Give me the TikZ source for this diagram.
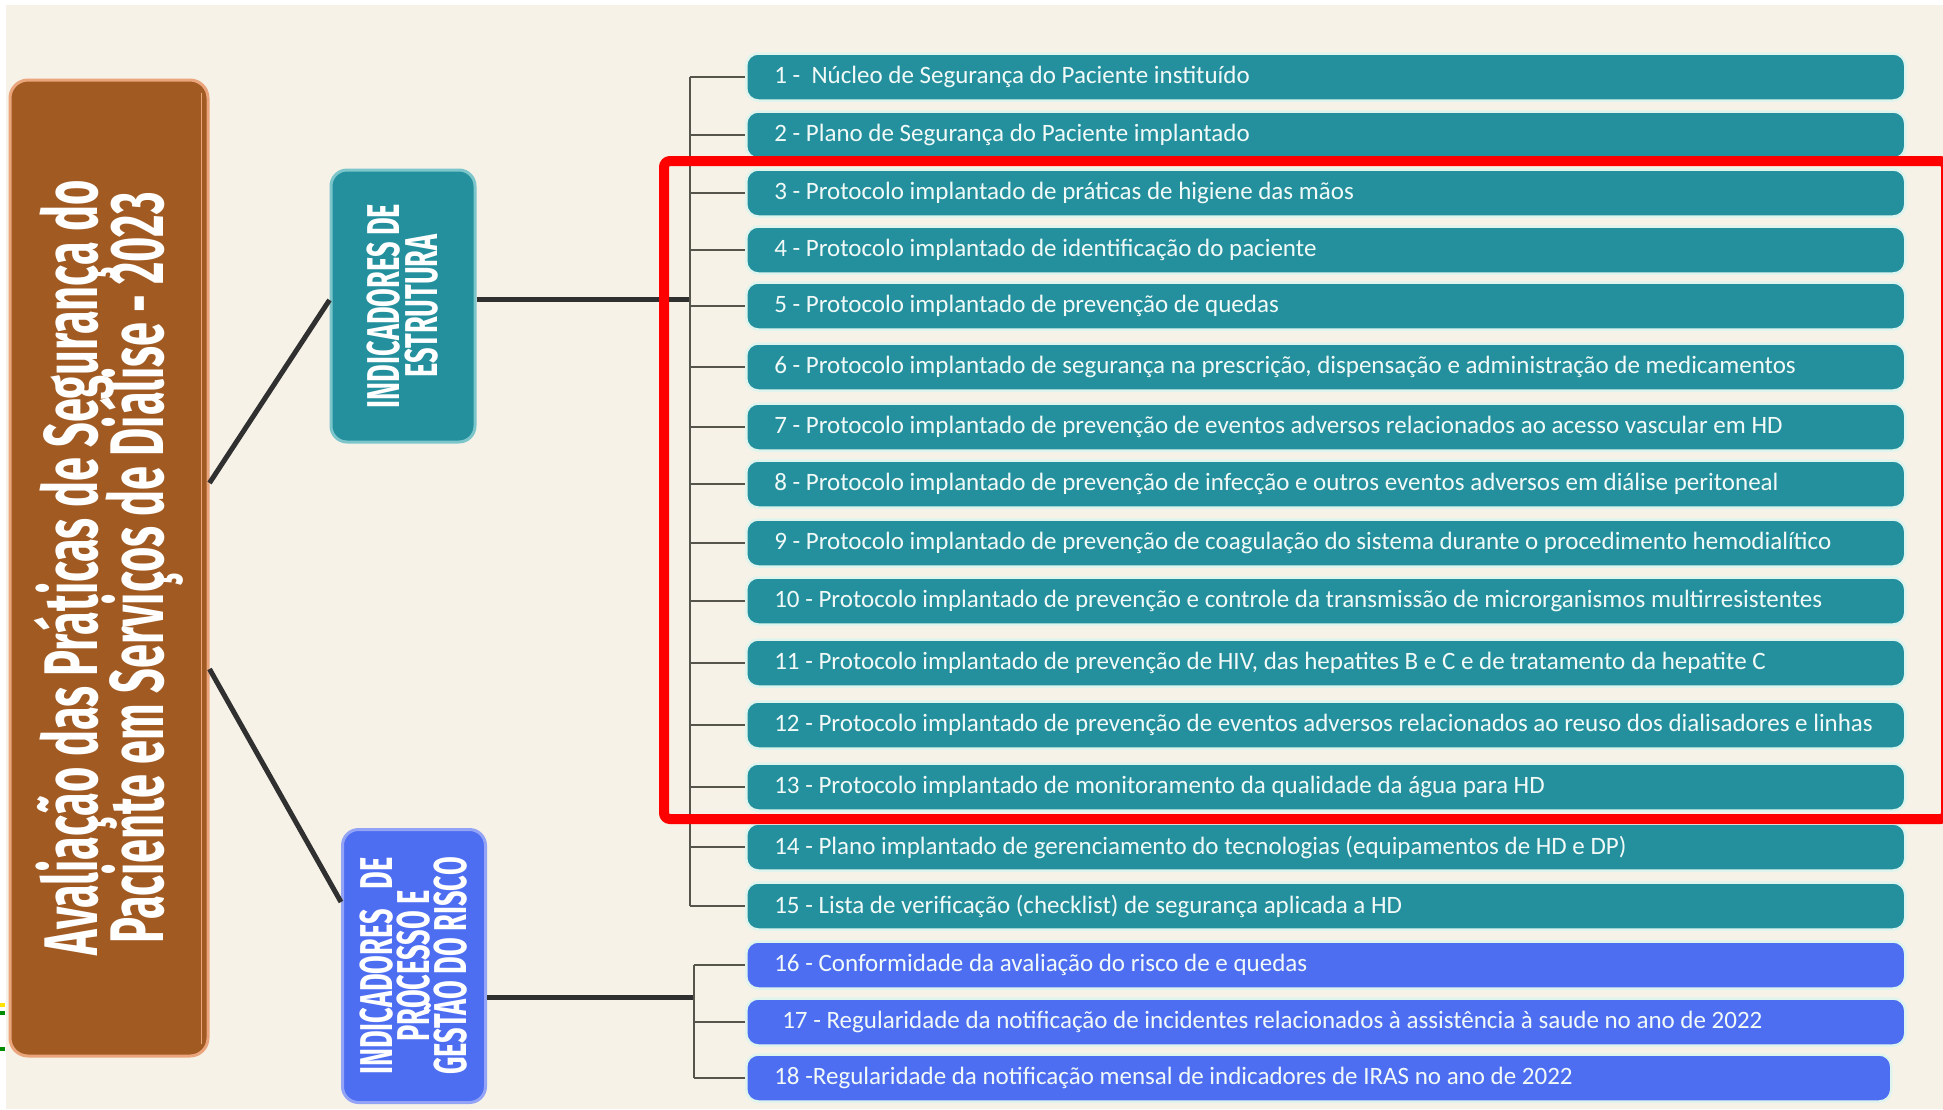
\documentclass[tikz,border=0pt]{standalone}
\usepackage{fontspec}
\setmainfont{Carlito}
\newfontfamily\titlefont{Fira Sans}[FakeStretch=0.57]
\newfontfamily\catfont{Fira Sans}[FakeStretch=0.59]
\definecolor{bg}{HTML}{F6F2E8}
\definecolor{tealbox}{HTML}{24909D}
\definecolor{tealedge}{HTML}{7CC6CB}
\definecolor{bluebox}{HTML}{4E6EF2}
\definecolor{blueedge}{HTML}{93A4F6}
\definecolor{brownbox}{HTML}{A15A22}
\definecolor{brownedge}{HTML}{EBA57C}
\definecolor{linec}{HTML}{303030}
\definecolor{brc}{HTML}{55554C}
\definecolor{mint}{HTML}{E0F4EE}
\definecolor{itemtext}{HTML}{F2FAF8}
\newcommand{\itemtxt}[1]{\makebox[1103pt][l]{#1}}
% centred lines with a fixed baseline distance
\newcommand{\linestack}[2]{\vbox{\lineskiplimit=-1000pt\lineskip=0pt\baselineskip=#1\halign{\hfil##\hfil\cr#2\crcr}}}
\tikzset{
  mainbox/.style={draw=brownedge, line width=3pt, fill=brownbox, rounded corners=18pt,
    minimum width=198pt, minimum height=976pt, inner sep=0pt, text=white,
    font=\titlefont\bfseries\fontsize{76}{66}\selectfont},
  catbox/.style={line width=3pt, rounded corners=16pt, inner sep=0pt, text=white,
    font=\catfont\bfseries\fontsize{46}{37}\selectfont},
  itembox/.style={draw=mint, line width=2.5pt, rounded corners=12pt, minimum height=47pt,
    inner xsep=28pt, inner ysep=0pt, anchor=west, text=itemtext,
    font=\fontsize{25}{27}\selectfont},
  tealitem/.style={itembox, fill=tealbox},
  blueitem/.style={itembox, fill=bluebox},
  mainline/.style={draw=linec, line width=5pt},
  brline/.style={draw=brc, line width=2pt},
}
\begin{document}
\begin{tikzpicture}[x=1pt, y=-1pt]
\useasboundingbox (0,0) rectangle (1943,1109);
\fill[white] (0,0) rectangle (1943,1109);
\fill[bg] (6,5) rectangle (1943,1109);
\fill[yellow!85!orange] (0,1003) rectangle (5,1007);
\fill[green!55!black] (0,1011) rectangle (5,1015);
\fill[green!55!black] (0,1047) rectangle (5,1051);

% main title box
\node[mainbox] (main) at (109,568)
  {\rotatebox{90}{\linestack{66pt}{Avaliação das Práticas de Segurança do\cr Paciente em Serviços de Diálise - 2023}}};
\draw[brownedge, line width=1.5pt] ([xshift=-8pt,yshift=-14pt]main.north east) -- ([xshift=-8pt,yshift=14pt]main.south east);

% category boxes
\node[catbox, draw=tealedge, fill=tealbox, minimum width=144pt, minimum height=272pt] (estr) at (403,306)
  {\rotatebox{90}{\linestack{38pt}{INDICADORES DE\cr ESTRUTURA}}};
\node[catbox, draw=blueedge, fill=bluebox, minimum width=143pt, minimum height=273pt] (proc) at (414,966)
  {\rotatebox{90}{\linestack{37pt}{INDICADORES\hspace{20pt}DE\cr PROCESSO E\cr GESTÃO DO RISCO}}};

% items
\node[tealitem] (i1) at (745,77) {\itemtxt{1 -\ \ Núcleo de Segurança do Paciente instituído}};
\node[tealitem] (i2) at (745,135) {\itemtxt{2 - Plano de Segurança do Paciente implantado}};
\node[tealitem] (i3) at (745,193) {\itemtxt{3 - Protocolo implantado de práticas de higiene das mãos}};
\node[tealitem] (i4) at (745,250) {\itemtxt{4 - Protocolo implantado de identificação do paciente}};
\node[tealitem] (i5) at (745,306) {\itemtxt{5 - Protocolo implantado de prevenção de quedas}};
\node[tealitem] (i6) at (745,367) {\itemtxt{6 - Protocolo implantado de segurança na prescrição, dispensação e administração de medicamentos}};
\node[tealitem] (i7) at (745,427) {\itemtxt{7 - Protocolo implantado de prevenção de eventos adversos relacionados ao acesso vascular em HD}};
\node[tealitem] (i8) at (745,484) {\itemtxt{8 - Protocolo implantado de prevenção de infecção e outros eventos adversos em diálise peritoneal}};
\node[tealitem] (i9) at (745,543) {\itemtxt{9 - Protocolo implantado de prevenção de coagulação do sistema durante o procedimento hemodialítico}};
\node[tealitem] (i10) at (745,601) {\itemtxt{10 - Protocolo implantado de prevenção e controle da transmissão de microrganismos multirresistentes}};
\node[tealitem] (i11) at (745,663) {\itemtxt{11 - Protocolo implantado de prevenção de HIV, das hepatites B e C e de tratamento da hepatite C}};
\node[tealitem] (i12) at (745,725) {\itemtxt{12 - Protocolo implantado de prevenção de eventos adversos relacionados ao reuso dos dialisadores e linhas}};
\node[tealitem] (i13) at (745,787) {\itemtxt{13 - Protocolo implantado de monitoramento da qualidade da água para HD}};
\node[tealitem] (i14) at (745,847) {\itemtxt{14 - Plano implantado de gerenciamento do tecnologias (equipamentos de HD e DP)}};
\node[tealitem] (i15) at (745,906) {\itemtxt{15 - Lista de verificação (checklist) de segurança aplicada a HD}};
\node[blueitem] (i16) at (745,965) {\itemtxt{16 - Conformidade da avaliação do risco de e quedas}};
\node[blueitem] (i17) at (745,1022) {\itemtxt{\hspace{8pt}17 - Regularidade da notificação de incidentes relacionados à assistência à saude no ano de 2022}};
\node[blueitem, inner xsep=21pt] (i18) at (745,1078) {\itemtxt{\hspace{7pt}18 -Regularidade da notificação mensal de indicadores de IRAS no ano de 2022}};

% junction coordinates
\coordinate (jE) at (690,299);
\coordinate (jP) at (694,997);

% main connectors
\draw[mainline] ([yshift=85pt]main.east) -- ([yshift=6pt]estr.west);
\draw[mainline] ([yshift=-101pt]main.east) -- ([yshift=64pt]proc.west);
\draw[mainline] ([yshift=7pt]estr.east) -- (jE);
\draw[mainline] ([yshift=-31pt]proc.east) -- (jP);

% brackets
\draw[brline] (jE |- i1.west) -- (jE |- i15.west);
\foreach \k in {1,...,15} \draw[brline] (jE |- i\k.west) -- (i\k.west);
\draw[brline] (jP |- i16.west) -- (jP |- i18.west);
\foreach \k in {16,17,18} \draw[brline] (jP |- i\k.west) -- (i\k.west);

% red highlight
\draw[red, line width=10pt, rounded corners=6pt] (664,161) rectangle (1946,819);
\end{tikzpicture}
\end{document}
